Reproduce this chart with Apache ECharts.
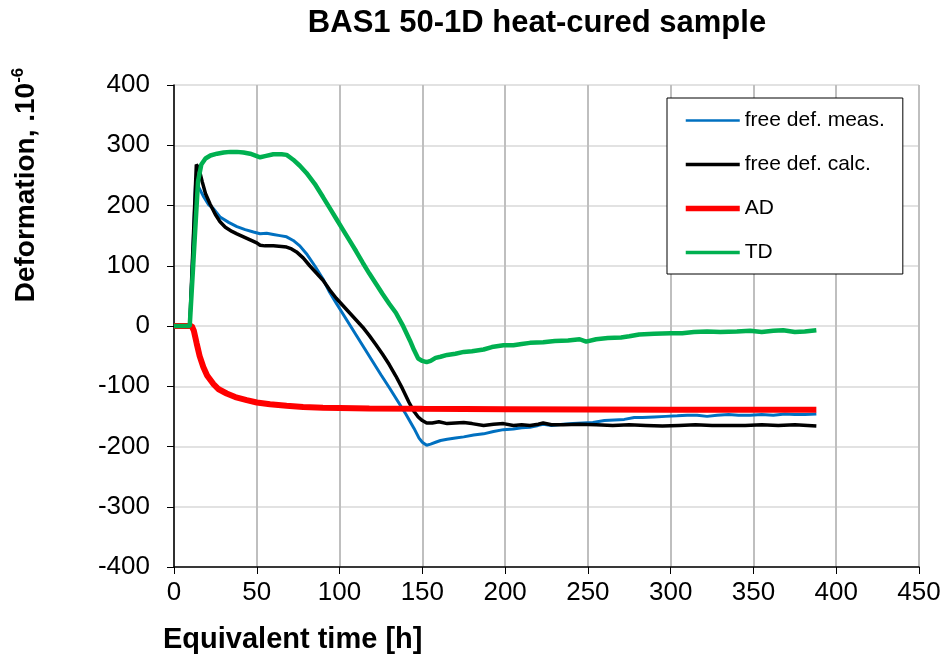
<!DOCTYPE html>
<html>
<head>
<meta charset="utf-8">
<script src="https://cdn.jsdelivr.net/npm/echarts@6/dist/echarts.min.js"></script>
<style>
html,body{margin:0;padding:0;background:#fff;}
#chart{width:944px;height:661px;}
</style>
</head>
<body>
<div id="chart"></div>
<script>
// ---- data ----
const titleText = 'BAS1 50-1D heat-cured sample';
const xName = 'Equivalent time [h]';
const yName = 'Deformation, .10';
const yNameSup = '-6';
const seriesNames = ['free def. meas.', 'free def. calc.', 'AD', 'TD'];

const measT = [0, 9.5, 13, 15, 18, 21, 23.7, 27.8, 33, 38, 43, 48, 52, 56, 60, 64, 68, 72, 76, 80, 85, 90, 94, 98, 100, 105, 110, 115, 120, 125, 130, 135, 140, 145, 148, 150, 152.6, 155, 158, 161, 165, 170, 175, 181, 187, 193, 199, 205, 210, 215, 220, 223, 228, 235, 241, 247, 253, 260, 266, 272, 278, 283, 290, 297, 304, 310, 316, 322, 328, 335, 341, 348, 355, 362, 369, 375, 381, 388];
const measV = [0, 0, 237, 230, 214, 201, 195, 181, 172, 165, 160, 156, 153, 154, 152, 150, 148, 142, 133, 120, 100, 78, 56, 38, 29, 7, -15, -37, -59, -81, -102, -124, -146, -170, -186, -193, -198, -196, -193, -190, -188, -186, -184, -181, -179, -175, -172, -171, -169, -168, -165, -163, -165, -163, -162, -161, -160, -157, -156, -155, -152, -152, -151, -150, -149, -148, -148, -150, -148, -147, -148, -148, -147, -148, -146, -147, -147, -146];

const calcT = [0, 9.5, 13.5, 15, 17, 19, 21.7, 25, 27.8, 31, 35, 38, 42, 46, 50, 52, 55, 60, 65, 68, 71, 74, 78, 82, 86, 90, 94, 98, 102, 106, 110, 114, 118, 122, 126, 130, 134, 138, 142, 145, 147.5, 150, 152.6, 156, 160, 165, 170, 175, 180, 187, 193, 199, 205, 210, 215, 220, 223, 228, 235, 245, 255, 265, 275, 285, 295, 305, 315, 325, 335, 345, 355, 365, 375, 388];
const calcV = [0, 0, 268, 262, 240, 220, 203, 185, 173, 164, 157, 153, 148, 143, 138, 134, 133, 133, 132, 131, 128, 123, 113, 100, 88, 76, 60, 46, 34, 22, 10, -2, -16, -31, -47, -64, -83, -104, -127, -142, -151, -157, -161, -161, -159, -162, -161, -160, -162, -165, -163, -162, -165, -164, -165, -163, -161, -164, -164, -163, -164, -165, -164, -165, -166, -165, -164, -165, -165, -165, -164, -165, -164, -166];

const adT = [0, 10.7, 12, 13.7, 15.5, 17.7, 20, 23.7, 27, 31.8, 37, 43.9, 50, 58, 68, 78, 90, 100, 118, 150, 200, 250, 300, 350, 388];
const adV = [0, 0, -8, -29, -50, -68, -82, -96, -105, -112, -118, -123, -127, -130, -132.5, -134.5, -135.5, -136, -137, -137.5, -138, -138.5, -139, -139, -139];

const tdT = [0, 9.5, 12, 14.5, 16.5, 19, 22, 26, 30, 34, 38, 42, 46, 50, 52, 55, 60, 65, 68, 70, 72, 76, 80, 85, 90, 94, 98, 102, 106, 110, 114, 118, 122, 126, 130, 134, 138, 142.5, 145, 147.5, 150, 152.6, 155, 158, 161, 165, 170, 175, 180, 187, 192, 199, 205, 210, 215, 223, 230, 238, 245, 249, 255, 262, 270, 275, 281, 290, 300, 307, 314, 322, 330, 340, 348, 355, 362, 368, 375, 381, 388];
const tdV = [0, 0, 120, 240, 268, 278, 283, 286, 288, 289, 289, 288, 286, 282, 280, 282, 285, 285, 284, 280, 276, 266, 254, 236, 214, 196, 178, 160, 142, 124, 105, 87, 70, 53, 37, 22, 2, -24, -40, -54, -58, -60, -58, -53, -51, -48, -46, -43, -42, -39, -35, -32, -32, -30, -28, -27, -25, -24, -22, -26, -22, -20, -19, -17, -14, -13, -12, -12, -10, -9, -10, -9, -8, -10, -8, -7, -10, -9, -7];

const xMin = 0, xMax = 450, xStep = 50;
const yMin = -400, yMax = 400, yStep = 100;

// ---- build ----
function zip(t, v) { return t.map((x, i) => [x, v[i]]); }
const FONT = "'Liberation Sans', Arial, sans-serif";
const colors = ['#0070C0', '#000000', '#FF0000', '#00B050'];
const widths = [3, 3.5, 6, 4.5];
const legendWidths = [2.5, 3.5, 5.5, 3.5];
const datasets = [zip(measT, measV), zip(calcT, calcV), zip(adT, adV), zip(tdT, tdV)];

const chart = echarts.init(document.getElementById('chart'), null, {renderer: 'canvas'});
chart.setOption({
  animation: false,
  backgroundColor: '#ffffff',
  textStyle: {fontFamily: FONT},
  title: {
    text: titleText,
    left: 537,
    textAlign: 'center',
    top: 8,
    padding: 0,
    textStyle: {fontFamily: FONT, fontSize: 31, fontWeight: 'bold', color: '#000'}
  },
  grid: {left: 174, right: 25, top: 85, bottom: 94, containLabel: false},
  legend: {
    show: true,
    orient: 'vertical',
    left: 667,
    top: 98,
    padding: [12, 18, 11, 16],
    itemGap: 23,
    itemWidth: 54,
    itemHeight: 20,
    backgroundColor: '#fff',
    borderColor: '#000',
    borderWidth: 1,
    textStyle: {fontFamily: FONT, fontSize: 21, color: '#000'},
    data: seriesNames.map((n, i) => ({
      name: n,
      itemStyle: {opacity: 0, borderWidth: 0},
      lineStyle: {width: legendWidths[i], color: colors[i]}
    }))
  },
  xAxis: {
    type: 'value',
    min: xMin, max: xMax, interval: xStep,
    axisLine: {onZero: false, lineStyle: {color: '#000', width: 1.5}},
    axisTick: {show: true, length: 7, lineStyle: {color: '#000', width: 1}},
    axisLabel: {fontFamily: FONT, fontSize: 26, color: '#000', margin: 13},
    splitLine: {show: true, lineStyle: {color: '#BFBFBF', width: 2}}
  },
  yAxis: {
    type: 'value',
    min: yMin, max: yMax, interval: yStep,
    axisLine: {show: true, onZero: false, lineStyle: {color: '#000', width: 1.5}},
    axisTick: {show: true, length: 7, lineStyle: {color: '#000', width: 1}},
    axisLabel: {fontFamily: FONT, fontSize: 26, color: '#000', margin: 24},
    splitLine: {show: true, lineStyle: {color: '#D9D9D9', width: 1.5}}
  },
  graphic: [
    {
      type: 'text',
      x: 25, y: 185,
      rotation: Math.PI / 2,
      style: {
        text: '{a|' + yName + '}{b|' + yNameSup + '}',
        align: 'center',
        verticalAlign: 'middle',
        fill: '#000',
        rich: {
          a: {fontFamily: FONT, fontSize: 28, fontWeight: 'bold', fill: '#000', verticalAlign: 'bottom', lineHeight: 30},
          b: {fontFamily: FONT, fontSize: 17, fontWeight: 'bold', fill: '#000', verticalAlign: 'top', lineHeight: 30}
        }
      }
    },
    {
      type: 'text',
      x: 163, y: 640,
      style: {
        text: xName,
        align: 'left',
        verticalAlign: 'middle',
        fill: '#000',
        font: 'bold 29px ' + FONT
      }
    }
  ],
  series: seriesNames.map((n, i) => ({
    name: n,
    type: 'line',
    data: datasets[i],
    showSymbol: false,
    symbol: 'none',
    smooth: false,
    lineStyle: {color: colors[i], width: widths[i]},
    itemStyle: {color: colors[i]},
    z: 2 + i
  }))
});
</script>
</body>
</html>
